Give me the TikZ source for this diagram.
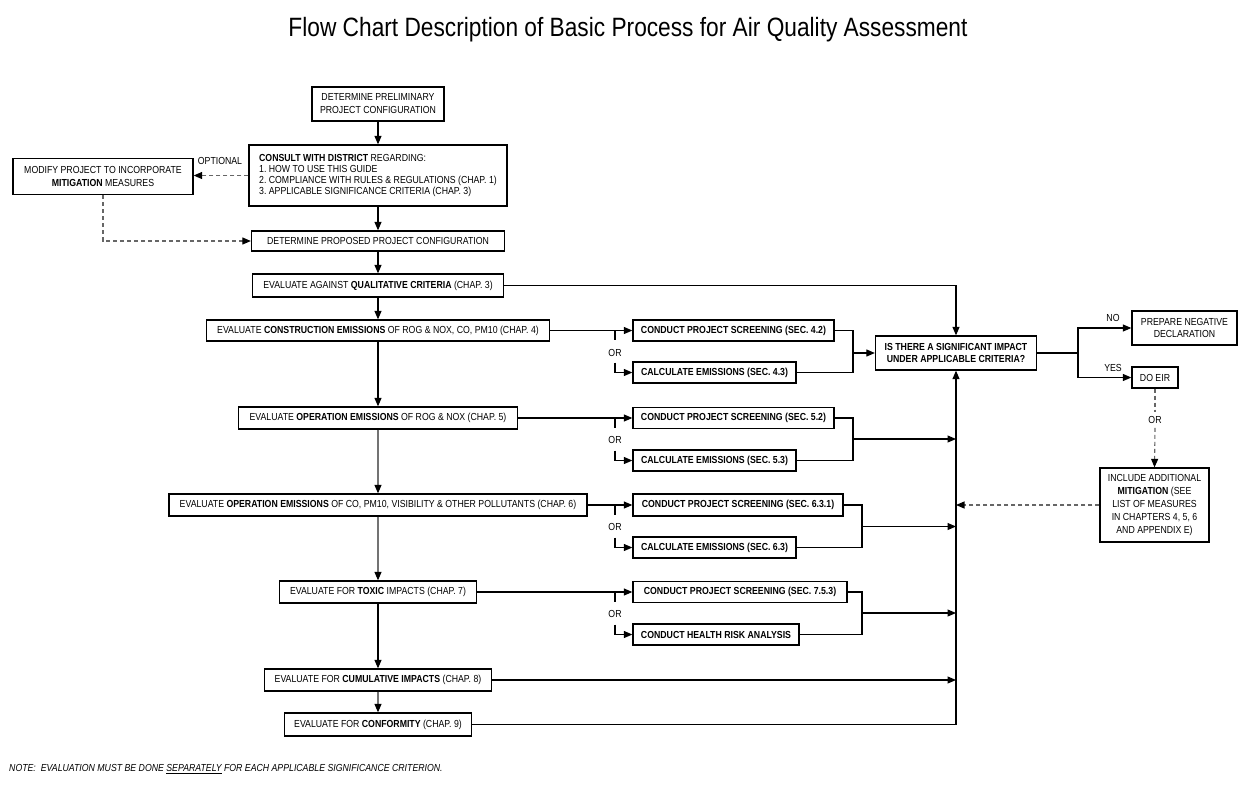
\documentclass[tikz,border=0pt]{standalone}
\usepackage{fontspec}
\setmainfont{Liberation Sans}[FakeStretch=0.857]
\usetikzlibrary{arrows.meta,calc}
\frenchspacing
\begin{document}
\frenchspacing
\begin{tikzpicture}[x=1pt,y=-1pt,
  box/.style={draw, line width=1.3pt, inner sep=0pt, align=center, font=\fontsize{10.2}{12.5}\selectfont},
  bbox/.style={box, font=\bfseries\fontsize{10.2}{12.5}\selectfont},
  lbl/.style={inner sep=1pt, font=\fontsize{10.2}{12}\selectfont},
  conn/.style={line width=1.1pt, -{Triangle[length=8.5pt,width=7pt]}},
  gconn/.style={line width=1.1pt, black!55, -{Triangle[length=8.5pt,width=7pt,color=black]}},
  plain/.style={line width=1.1pt},
  dshp/.style={line width=1.1pt, black!60, dash pattern=on 4pt off 3pt},
  dsh/.style={dshp, -{Triangle[length=8.5pt,width=7pt,color=black]}}
]
\useasboundingbox (0,0) rectangle (1248,807);
\node[font=\fontsize{26.5}{30}\selectfont, inner sep=0pt] (title) at (628,30) {Flow Chart Description of Basic Process for Air Quality Assessment};

% main column
\node[box,minimum width=132pt,minimum height=34pt,font=\fontsize{10.2}{13}\selectfont] (prelim) at (378,104) {DETERMINE PRELIMINARY\\PROJECT CONFIGURATION};
\node[box,align=left,minimum width=258pt,minimum height=61pt,font=\fontsize{10.2}{11.2}\selectfont] (consult) at (378,175.5) {\textbf{CONSULT WITH DISTRICT} REGARDING:\\1. HOW TO USE THIS GUIDE\\2. COMPLIANCE WITH RULES \& REGULATIONS (CHAP. 1)\\3. APPLICABLE SIGNIFICANCE CRITERIA (CHAP. 3)};
\node[box,minimum width=180pt,minimum height=36pt] (modify) at (103,176.5) {MODIFY PROJECT TO INCORPORATE\\\textbf{MITIGATION} MEASURES};
\node[lbl] (optional) at (220,161) {OPTIONAL};
\node[box,minimum width=253pt,minimum height=20pt] (proposed) at (378,241) {DETERMINE PROPOSED PROJECT CONFIGURATION};
\node[box,minimum width=251pt,minimum height=23pt] (qual) at (378,285.5) {EVALUATE AGAINST \textbf{QUALITATIVE CRITERIA} (CHAP. 3)};
\node[box,minimum width=343pt,minimum height=21pt] (constr) at (378,330.5) {EVALUATE \textbf{CONSTRUCTION EMISSIONS} OF ROG \& NOX, CO, PM10 (CHAP. 4)};
\node[box,minimum width=279pt,minimum height=22pt] (op5) at (378,418) {EVALUATE \textbf{OPERATION EMISSIONS} OF ROG \& NOX (CHAP. 5)};
\node[box,minimum width=418pt,minimum height=22pt] (op6) at (378,505) {EVALUATE \textbf{OPERATION EMISSIONS} OF CO, PM10, VISIBILITY \& OTHER POLLUTANTS (CHAP. 6)};
\node[box,minimum width=197pt,minimum height=22pt] (toxic) at (378,592) {EVALUATE FOR \textbf{TOXIC} IMPACTS (CHAP. 7)};
\node[box,minimum width=227pt,minimum height=22pt] (cumul) at (378,680) {EVALUATE FOR \textbf{CUMULATIVE IMPACTS} (CHAP. 8)};
\node[box,minimum width=187pt,minimum height=23pt] (conform) at (378,724.5) {EVALUATE FOR \textbf{CONFORMITY} (CHAP. 9)};

% method boxes
\node[bbox,minimum width=201pt,minimum height=21pt] (cps4) at (733.5,330.5) {CONDUCT PROJECT SCREENING (SEC. 4.2)};
\node[bbox,minimum width=163pt,minimum height=21pt] (ce4) at (714.5,372.5) {CALCULATE EMISSIONS (SEC. 4.3)};
\node[bbox,minimum width=201pt,minimum height=21pt] (cps5) at (733.5,418) {CONDUCT PROJECT SCREENING (SEC. 5.2)};
\node[bbox,minimum width=163pt,minimum height=21pt] (ce5) at (714.5,460.5) {CALCULATE EMISSIONS (SEC. 5.3)};
\node[bbox,minimum width=210pt,minimum height=22pt] (cps6) at (738,505) {CONDUCT PROJECT SCREENING (SEC. 6.3.1)};
\node[bbox,minimum width=163pt,minimum height=21pt] (ce6) at (714.5,547.5) {CALCULATE EMISSIONS (SEC. 6.3)};
\node[bbox,minimum width=214pt,minimum height=21pt] (cps7) at (740,592) {CONDUCT PROJECT SCREENING (SEC. 7.5.3)};
\node[bbox,minimum width=166pt,minimum height=21pt] (hra) at (716,634.5) {CONDUCT HEALTH RISK ANALYSIS};

% decision side
\node[bbox,minimum width=161pt,minimum height=34pt] (dec) at (956,353) {IS THERE A SIGNIFICANT IMPACT\\UNDER APPLICABLE CRITERIA?};
\node[box,minimum width=105pt,minimum height=34pt] (pnd) at (1184.5,328) {PREPARE NEGATIVE\\DECLARATION};
\node[box,minimum width=46pt,minimum height=21pt] (doeir) at (1155,377.5) {DO EIR};
\node[box,minimum width=109pt,minimum height=74pt,font=\fontsize{10.2}{12.8}\selectfont] (include) at (1154.5,505) {INCLUDE ADDITIONAL\\\textbf{MITIGATION} (SEE\\LIST OF MEASURES\\IN CHAPTERS 4, 5, 6\\AND APPENDIX E)};
\node[lbl] (no) at (1113,318) {NO};
\node[lbl] (yes) at (1113,368) {YES};
\node[lbl,inner sep=4pt] (oreir) at (1155,420) {OR};

% main column connectors
\draw[conn] (prelim.south) -- (consult.north);
\draw[conn] (consult.south) -- (proposed.north);
\draw[conn] (proposed.south) -- (qual.north);
\draw[conn] (qual.south) -- (constr.north);
\draw[conn] (constr.south) -- (op5.north);
\draw[gconn] (op5.south) -- (op6.north);
\draw[gconn] (op6.south) -- (toxic.north);
\draw[conn] (toxic.south) -- (cumul.north);
\draw[gconn] (cumul.south) -- (conform.north);
\draw[dsh] (consult.west) -- (consult.west -| modify.east);
\draw[dsh] (modify.south) |- (proposed.west);

% to decision
\draw[conn] (qual.east) -| (dec.north);
\draw[conn] (conform.east) -| (dec.south);
\draw[conn] (cumul.east) -- (cumul.east -| dec.south);
\draw[dsh] (include.west) -- (include.west -| dec.south);

% branches
\coordinate (bx) at (615,0);
\foreach \a/\b/\c in {constr/cps4/ce4, op5/cps5/ce5, op6/cps6/ce6, toxic/cps7/hra}{
  \draw[conn] (\a.east) -- (\b.west);
  \draw[plain] (\a.east -| bx) -- ++(0,9.5);
  \draw[conn] (\c.west -| bx) ++(0,-10) |- (\c.west);
}
\node[lbl] (or4) at (615,353) {OR};
\node[lbl] (or5) at (615,440) {OR};
\node[lbl] (or6) at (615,527) {OR};
\node[lbl] (or7) at (615,614) {OR};

% merges
\coordinate (m4) at (853,0);
\coordinate (m6) at (862,0);
\draw[plain] (cps4.east) -- (cps4.east -| m4) -- (ce4.east -| m4) -- (ce4.east);
\draw[conn] (dec.west -| m4) -- (dec.west);
\draw[plain] (cps5.east) -- (cps5.east -| m4) -- (ce5.east -| m4) -- (ce5.east);
\coordinate (j5) at (853,439);
\draw[conn] (j5) -- (j5 -| dec.south);
\draw[plain] (cps6.east) -- (cps6.east -| m6) -- (ce6.east -| m6) -- (ce6.east);
\coordinate (j6) at (862,526.5);
\draw[conn] (j6) -- (j6 -| dec.south);
\draw[plain] (cps7.east) -- (cps7.east -| m6) -- (hra.east -| m6) -- (hra.east);
\coordinate (j7) at (862,613);
\draw[conn] (j7) -- (j7 -| dec.south);

% decision outcomes
\coordinate (dj) at (1078,353);
\draw[plain] (dec.east) -- (dj);
\draw[conn] (dj) |- (pnd.west);
\draw[conn] (dj) |- (doeir.west);
\draw[dshp] (doeir.south) -- (oreir.north);
\draw[dsh] (oreir.south) -- (include.north);

% note
\node[anchor=west, inner sep=0pt, font=\itshape\fontsize{10.2}{12}\selectfont] (note) at (9,769) {NOTE:\ \ EVALUATION MUST BE DONE \underline{SEPARATELY} FOR EACH APPLICABLE SIGNIFICANCE CRITERION.};
\end{tikzpicture}
\end{document}
